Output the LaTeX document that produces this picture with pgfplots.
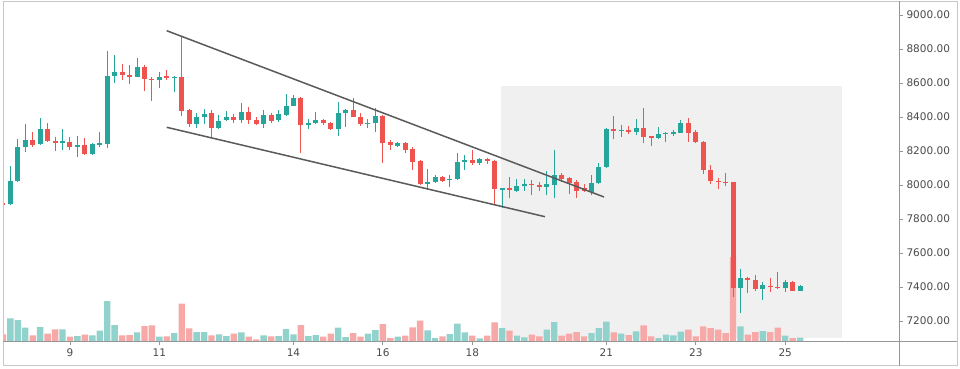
\documentclass[border=0pt]{standalone}
\usepackage{pgfplots}
\pgfplotsset{compat=1.18}
\usepackage{pgfplotstable}
\usepackage{fontspec}
\setmainfont{DejaVu Sans}
\definecolor{upc}{RGB}{38,166,154}
\definecolor{dnc}{RGB}{239,83,80}
\definecolor{upv}{RGB}{146,210,204}
\definecolor{dnv}{RGB}{247,169,167}
\definecolor{shade}{RGB}{240,240,240}
\definecolor{sep}{RGB}{150,150,150}
\definecolor{outer}{RGB}{200,200,200}
\definecolor{lbl}{RGB}{74,74,74}
\definecolor{trend}{RGB}{90,90,90}

% i = 4h candle index (0 = 7th 16:00), o h l c price, v volume (bar height units)
\pgfplotstableread{
i o h l c v
0 7886 8112 7880 8025 22.7
1 8022 8271 8015 8222 21
2 8222 8357 8196 8263 13.3
4 8241 8396 8238 8328 14
7 8245 8328 8206 8257 11.7
9 8226 8288 8167 8237 5
11 8182 8245 8175 8239 5.7
12 8237 8314 8222 8245 10.3
13 8241 8788 8216 8641 40
14 8641 8767 8598 8665 16
17 8637 8745 8635 8692 8.7
20 8618 8663 8569 8637 4.3
22 8629 8641 8549 8637 8
25 8359 8422 8333 8402 9
26 8402 8445 8359 8420 9
28 8333 8412 8330 8378 6.7
29 8382 8435 8378 8402 5
31 8382 8480 8367 8431 8.7
34 8359 8441 8333 8410 5.7
36 8382 8441 8373 8416 5
37 8412 8535 8408 8467 12
38 8467 8529 8463 8514 6.7
40 8353 8386 8328 8367 5
41 8363 8427 8359 8382 6
44 8329 8490 8288 8422 13.3
45 8422 8447 8343 8441 4
48 8359 8386 8333 8367 7.3
49 8363 8451 8314 8406 11
52 8231 8255 8225 8245 4.3
56 8008 8094 7971 8016 10.7
57 8016 8059 8012 8049 3
59 8029 8059 7986 8037 7
60 8033 8190 8029 8133 17.3
61 8137 8176 8088 8147 8.7
63 8127 8157 8118 8151 2.7
66 7971 7984 7863 7980 13
68 7967 8037 7961 7994 5.3
69 7994 8037 7967 8006 3.7
72 7990 8084 7941 8006 11.3
73 8000 8206 7922 8059 19
78 7961 8059 7941 8010 8
79 8010 8128 8006 8108 13
80 8108 8333 8098 8328 19.3
82 8318 8353 8284 8324 7.3
84 8314 8386 8294 8333 9.7
87 8274 8339 8270 8298 3
88 8298 8314 8255 8305 6.3
89 8302 8322 8290 8309 5.7
90 8308 8382 8304 8363 9.3
98 7396 7504 7245 7451 14.7
101 7388 7431 7324 7412 10
104 7392 7441 7373 7431 5.3
106 7377 7414 7375 7408 3.3
}\upT

\pgfplotstableread{
i o h l c v
-1 7893 7900 7878 7885 6.7
3 8263 8310 8222 8237 5.7
5 8328 8363 8252 8259 7.3
6 8261 8284 8200 8249 11.7
8 8255 8284 8206 8224 4.3
10 8237 8274 8178 8182 6.3
15 8665 8712 8618 8645 5.7
16 8649 8706 8594 8637 6
18 8696 8706 8555 8622 15
19 8624 8637 8494 8616 15.7
21 8640 8676 8618 8630 4.7
23 8637 8876 8408 8437 37.3
24 8441 8445 8343 8359 12.7
27 8422 8441 8275 8333 5.7
30 8402 8420 8363 8382 7.3
32 8431 8461 8359 8382 4.3
33 8382 8402 8355 8359 1.7
35 8410 8422 8363 8378 4.7
39 8514 8520 8186 8353 16
42 8382 8390 8355 8363 4.3
43 8363 8373 8324 8329 7.3
46 8441 8510 8398 8402 8
47 8402 8422 8349 8357 4.3
50 8406 8410 8128 8249 17
51 8251 8265 8206 8235 3
53 8245 8255 8186 8206 5.3
54 8210 8226 8088 8137 13.7
55 8141 8145 8000 8006 20.3
58 8045 8051 8020 8024 4.7
62 8147 8206 8118 8127 5.3
64 8151 8160 8125 8143 5.3
65 8143 8147 7888 7975 18.7
67 7980 8045 7922 7971 10.3
70 8006 8029 7941 7999 6.3
71 8000 8020 7967 7990 4.7
74 8059 8070 8020 8035 5.3
75 8039 8049 7947 8010 7.3
76 8020 8029 7922 7967 9
77 7980 8006 7961 7967 4.7
81 8328 8406 8269 8318 8.7
83 8324 8345 8298 8314 6
85 8333 8451 8245 8284 15.7
86 8286 8290 8231 8274 4.7
91 8363 8392 8255 8308 11.3
92 8310 8324 8245 8255 4.7
93 8255 8260 8063 8088 14.7
94 8088 8118 8004 8025 13
95 8025 8043 7975 8016 11.3
96 8020 8069 7996 8010 8
97 8016 8020 7340 7396 84
99 7451 7461 7363 7442 6.3
100 7441 7471 7377 7388 9
102 7408 7455 7373 7399 9
103 7399 7486 7388 7392 13.3
105 7431 7436 7375 7377 3
}\dnT

\begin{document}
\begin{tikzpicture}[x=1pt,y=1pt]
\fill[white] (0,0) rectangle (960,368);
\pgfplotsset{base/.style={scale only axis, width=896pt, height=338pt,
  xmin=-0.993, xmax=119.28, at={(3pt,27pt)}, anchor=south west}}

% background: shaded zone + ticks/labels
\begin{axis}[base, ymin=7082.4, ymax=9070.6,
  axis x line*=bottom, axis y line*=right,
  axis line style={draw=none},
  tick align=outside, major tick length=4pt,
  tick style={draw=sep, line width=0.8pt},
  xtick={8,20,38,50,62,80,92,104},
  xticklabels={9,11,14,16,18,21,23,25},
  ytick={7200,7400,...,9000},
  yticklabel={\pgfmathprintnumber[fixed,fixed zerofill,precision=2,1000 sep={}]{\tick}},
  tick label style={font=\fontsize{10.5}{12}\selectfont, text=lbl},
  /pgf/number format/assume math mode=true]
\addplot[fill=shade, draw=none] coordinates {(65.81,7100) (111.58,7100) (111.58,8582.4) (65.81,8582.4)} -- cycle;
\end{axis}

% volume
\begin{axis}[base, ymin=0, ymax=338, hide axis]
\addplot[ybar, bar shift=0pt, bar width=6.4pt, fill=upv, draw=none] table[x=i,y=v] {\upT};
\addplot[ybar, bar shift=0pt, bar width=6.4pt, fill=dnv, draw=none] table[x=i,y=v] {\dnT};
\end{axis}

% candles and trend lines
\begin{axis}[base, ymin=7082.4, ymax=9070.6, hide axis]
\addplot[quiver={u=0, v=\thisrow{h}-\thisrow{l}}, draw=upc, line width=1pt, -] table[x=i,y=l] {\upT};
\addplot[quiver={u=0, v=\thisrow{c}-\thisrow{o}}, draw=upc, line width=5pt, -] table[x=i,y=o] {\upT};
\addplot[quiver={u=0, v=\thisrow{h}-\thisrow{l}}, draw=dnc, line width=1pt, -] table[x=i,y=l] {\dnT};
\addplot[quiver={u=0, v=\thisrow{c}-\thisrow{o}}, draw=dnc, line width=5pt, -] table[x=i,y=o] {\dnT};
\addplot[trend, line width=1.5pt] coordinates {(20.98,8907.7) (79.68,7929.5)};
\addplot[trend, line width=1.5pt] coordinates {(20.98,8339.5) (71.76,7813.6)};
\end{axis}

% frame
\draw[outer, line width=1pt] (3,2.5) rectangle (957,367);
\draw[sep, line width=0.8pt] (899,2.5) -- (899,367);
\draw[sep, line width=0.8pt] (3,27) -- (957,27);
\end{tikzpicture}
\end{document}
